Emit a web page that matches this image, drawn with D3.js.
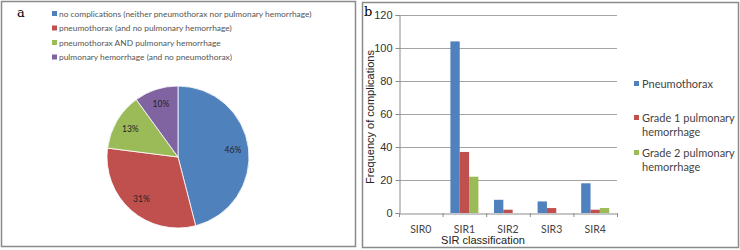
<!DOCTYPE html>
<html>
<head>
<meta charset="utf-8">
<script src="https://cdn.jsdelivr.net/npm/d3@7"></script>
<style>
  body { margin: 0; background: #fff; }
</style>
</head>
<body>
<div id="chart"></div>
<script>
// panel a: pie of complication shares
const pieLabels = [
  "no complications (neither pneumothorax nor pulmonary hemorrhage)",
  "pneumothorax (and no pulmonary hemorrhage)",
  "pneumothorax AND pulmonary hemorrhage",
  "pulmonary hemorrhage (and no pneumothorax)"
];
const pieValues = [46, 31, 13, 10];

// panel b: grouped bars by SIR class
const sirClasses = ["SIR0", "SIR1", "SIR2", "SIR3", "SIR4"];
const seriesNames = ["Pneumothorax", "Grade 1 pulmonary hemorrhage", "Grade 2 pulmonary hemorrhage"];
const pneumothorax = [0, 104, 8, 7, 18];
const grade1 = [0, 37, 2, 3, 2];
const grade2 = [0, 22, 0, 0, 3];
const yTicks = [0, 20, 40, 60, 80, 100, 120];

const colors = ["#4F81BD", "#C0504D", "#9BBB59", "#8064A2"];
const W = 740, H = 250;
const calibriLike = "Lato, 'Open Sans', sans-serif";
const arialLike = "'Liberation Sans', Arial, sans-serif";

const svg = d3.select("#chart").append("svg")
  .attr("width", W).attr("height", H)
  .style("font-family", calibriLike);

// panel frames
svg.append("rect").attr("x", 1.5).attr("y", 1.5).attr("width", 354).attr("height", 245)
  .attr("fill", "none").attr("stroke", "#8a8a8a").attr("stroke-width", 1.5);
svg.append("rect").attr("x", 362.5).attr("y", 2.5).attr("width", 376).attr("height", 245)
  .attr("fill", "none").attr("stroke", "#8a8a8a").attr("stroke-width", 1.5);

svg.append("text").attr("x", 17).attr("y", 17)
  .style("font-family", "'DejaVu Serif', 'Liberation Serif', serif").style("font-size", "13px")
  .text("a");
svg.append("text").attr("x", 364).attr("y", 16)
  .style("font-family", "'DejaVu Serif', 'Liberation Serif', serif").style("font-size", "13px")
  .text("b");

// ---- pie ----
const radius = 71;
const pieG = svg.append("g").attr("transform", "translate(178,157)");
const pie = d3.pie().sort(null).value(d => d);
const arc = d3.arc().innerRadius(0).outerRadius(radius);
const arcs = pie(pieValues);
pieG.selectAll("path").data(arcs).join("path")
  .attr("d", arc)
  .attr("fill", (d, i) => colors[i])
  .attr("stroke", "#fff").attr("stroke-width", 0.8);

const labelArc = d3.arc().innerRadius(radius * 0.78).outerRadius(radius * 0.78);
pieG.selectAll("text").data(arcs).join("text")
  .attr("transform", d => `translate(${labelArc.centroid(d)})`)
  .attr("text-anchor", "middle").attr("dy", "0.35em")
  .style("font-size", "8.5px").attr("fill", "#222")
  .text(d => d.data + "%");

const pieLegend = svg.append("g").attr("transform", "translate(52,11)");
pieLabels.forEach((t, i) => {
  const g = pieLegend.append("g").attr("transform", `translate(0,${i * 14.5})`);
  g.append("rect").attr("width", 5).attr("height", 5).attr("fill", colors[i]);
  g.append("text").attr("x", 7).attr("y", 5.5)
    .style("font-size", "8.4px").attr("fill", "#555").text(t);
});

// ---- bars ----
const x0 = d3.scaleBand().domain(sirClasses).range([399, 617]);
const x1 = d3.scaleBand().domain(seriesNames).range([0, 28]);
const y = d3.scaleLinear().domain([0, 120]).range([213, 15]);

svg.append("g").selectAll("line").data(yTicks.filter(v => v > 0)).join("line")
  .attr("x1", 399).attr("x2", 617)
  .attr("y1", d => y(d) + 0.5).attr("y2", d => y(d) + 0.5)
  .attr("stroke", "#8c8c8c").attr("stroke-width", 0.8);

const seriesData = [pneumothorax, grade1, grade2];
const barG = svg.append("g");
sirClasses.forEach((c, ci) => {
  const gx = x0(c) + (x0.bandwidth() - 28) / 2;
  seriesNames.forEach((s, si) => {
    const v = seriesData[si][ci];
    if (v <= 0) return;
    barG.append("rect")
      .attr("x", gx + x1(s)).attr("width", x1.bandwidth())
      .attr("y", y(v)).attr("height", y(0) - y(v))
      .attr("fill", colors[si]);
  });
});

// axes
const yAxis = svg.append("g").attr("transform", "translate(399.5,0)")
  .call(d3.axisLeft(y).tickValues(yTicks).tickSize(4).tickPadding(3));
yAxis.select(".domain").attr("stroke", "#8c8c8c");
yAxis.selectAll(".tick line").attr("stroke", "#8c8c8c");
yAxis.selectAll("text").style("font-family", arialLike)
  .style("font-size", "11px").attr("fill", "#333");

const xAxis = svg.append("g").attr("transform", "translate(0,213.5)")
  .call(d3.axisBottom(x0).tickSize(0).tickPadding(12));
xAxis.select(".domain").attr("stroke", "#8c8c8c");
xAxis.selectAll("text").style("font-family", calibriLike).style("font-size", "10.5px").attr("fill", "#444");
svg.append("g").selectAll("line").data(sirClasses.concat(["end"])).join("line")
  .attr("x1", (d, i) => 399.5 + i * x0.bandwidth()).attr("x2", (d, i) => 399.5 + i * x0.bandwidth())
  .attr("y1", 213).attr("y2", 217).attr("stroke", "#8c8c8c");

svg.append("text").attr("x", 483).attr("y", 244).attr("text-anchor", "middle")
  .style("font-family", arialLike).style("font-size", "11px")
  .attr("fill", "#222").text("SIR classification");
svg.append("text").attr("transform", "translate(374,117) rotate(-90)").attr("text-anchor", "middle")
  .style("font-family", arialLike).style("font-size", "11px")
  .attr("fill", "#222").text("Frequency of complications");

// bar legend
const legendRows = [["Pneumothorax"], ["Grade 1 pulmonary", "hemorrhage"], ["Grade 2 pulmonary", "hemorrhage"]];
const legendY = [84, 118, 153];
legendRows.forEach((lines, i) => {
  const g = svg.append("g").attr("transform", `translate(634,${legendY[i]})`);
  g.append("rect").attr("y", -3).attr("width", 5).attr("height", 5).attr("fill", colors[i]);
  lines.forEach((t, li) => {
    g.append("text").attr("x", 8).attr("y", li * 14.5).attr("dy", "0.35em")
      .style("font-size", "11px").attr("fill", "#444").text(t);
  });
});
</script>
</body>
</html>
